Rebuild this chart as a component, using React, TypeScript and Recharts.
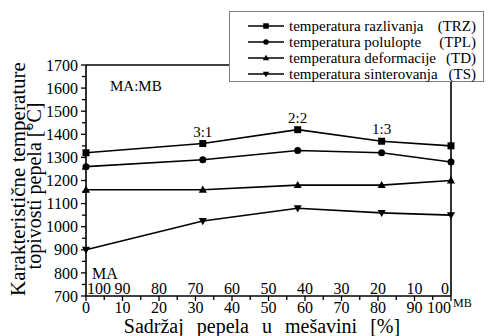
import React from 'react';
import { LineChart, Line, XAxis, YAxis, ReferenceLine, Legend, LabelList } from 'recharts';

const X_VALUES = [0, 32, 58, 81, 100];
const TRZ = [1320, 1360, 1420, 1370, 1350];
const TPL = [1260, 1290, 1330, 1320, 1280];
const TD = [1160, 1160, 1180, 1180, 1200];
const TS = [900, 1025, 1080, 1060, 1050];
const RATIO_LABELS = ['', '3:1', '2:2', '1:3', ''];

const X_TICKS = [0, 5, 10, 15, 20, 25, 30, 35, 40, 45, 50, 55, 60, 65, 70, 75, 80, 85, 90, 95, 100];
const X_MAJOR = [0, 10, 20, 30, 40, 50, 60, 70, 80, 90, 100];
const MA_SHARE = ['100', '90', '80', '70', '60', '50', '40', '30', '20', '10', '0'];
const Y_TICKS = [700, 750, 800, 850, 900, 950, 1000, 1050, 1100, 1150, 1200, 1250, 1300, 1350, 1400, 1450, 1500, 1550, 1600, 1650, 1700];
const Y_MAJOR = [700, 800, 900, 1000, 1100, 1200, 1300, 1400, 1500, 1600, 1700];

const SERIES = [
  { key: 'trz', name: 'temperatura razlivanja', abbr: '(TRZ)', shape: 'square' },
  { key: 'tpl', name: 'temperatura polulopte', abbr: '(TPL)', shape: 'circle' },
  { key: 'td', name: 'temperatura deformacije', abbr: '(TD)', shape: 'up' },
  { key: 'ts', name: 'temperatura sinterovanja', abbr: '(TS)', shape: 'down' },
];

const data = X_VALUES.map((x, i) => ({
  x,
  trz: TRZ[i],
  tpl: TPL[i],
  td: TD[i],
  ts: TS[i],
  ratio: RATIO_LABELS[i],
}));

const FONT = 'Times New Roman';
const INK = '#000';

function Marker({ cx, cy, shape, s }: { cx: number; cy: number; shape: string; s: number }) {
  if (cx == null || cy == null) return null;
  if (shape === 'square') return <rect x={cx - s / 2} y={cy - s / 2} width={s} height={s} fill={INK} />;
  if (shape === 'circle') return <circle cx={cx} cy={cy} r={s / 2} fill={INK} />;
  if (shape === 'up')
    return <polygon points={`${cx},${cy - s * 0.6} ${cx + s * 0.58},${cy + s * 0.42} ${cx - s * 0.58},${cy + s * 0.42}`} fill={INK} />;
  return <polygon points={`${cx},${cy + s * 0.6} ${cx + s * 0.58},${cy - s * 0.42} ${cx - s * 0.58},${cy - s * 0.42}`} fill={INK} />;
}

const XTick = (props: any) => {
  const { x, y, payload } = props;
  const v = payload.value;
  const majorIdx = X_MAJOR.indexOf(v);
  const major = majorIdx >= 0;
  let anchor: 'middle' | 'start' | 'end' = 'middle';
  let dx = 0;
  if (v === 0) { anchor = 'start'; dx = 1; }
  if (v === 100) { anchor = 'end'; dx = -2; }
  return (
    <g>
      <line x1={x} x2={x} y1={y} y2={y + (major ? 5 : 4)} stroke={INK} strokeWidth={1.3} />
      {major && (
        <text x={x} y={y + 17} textAnchor={v === 100 ? 'end' : 'middle'} fontSize={16} style={{ fontFamily: FONT }} fill={INK}>
          {v}
        </text>
      )}
      {major && (
        <text x={x + dx} y={y - 2} textAnchor={anchor} fontSize={16} style={{ fontFamily: FONT }} fill={INK}>
          {MA_SHARE[majorIdx]}
        </text>
      )}
    </g>
  );
};

const YTick = (props: any) => {
  const { x, y, payload } = props;
  const v = payload.value;
  const major = Y_MAJOR.indexOf(v) >= 0;
  return (
    <g>
      <line x1={x} x2={x - (major ? 5 : 4)} y1={y} y2={y} stroke={INK} strokeWidth={1.3} />
      {major && (
        <text x={x - 8} y={y} dy="0.35em" textAnchor="end" fontSize={16} style={{ fontFamily: FONT }} fill={INK}>
          {v}
        </text>
      )}
    </g>
  );
};

const YTitle = () => (
  <g fill={INK}>
    <text transform="translate(25,179) rotate(-90)" textAnchor="middle" fontSize={21} style={{ fontFamily: FONT }}>
      Karakteristične temperature
    </text>
    <text transform="translate(41,186) rotate(-90)" textAnchor="middle" fontSize={20} style={{ fontFamily: FONT }}>
      topivosti pepela [°C]
    </text>
    <text x={110} y={91} fontSize={15} style={{ fontFamily: FONT }}>MA:MB</text>
  </g>
);

const XTitle = () => (
  <g fill={INK}>
    <text x={262} y={333} textAnchor="middle" fontSize={20} style={{ wordSpacing: '8px', fontFamily: FONT }}>
      Sadržaj pepela u mešavini [%]
    </text>
    <text x={92} y={279} fontSize={16} style={{ fontFamily: FONT }}>MA</text>
    <text x={453} y={307} fontSize={12} style={{ fontFamily: FONT }}>MB</text>
  </g>
);

const LegendContent = () => (
  <div
    style={{
      width: 255,
      height: 71,
      boxSizing: 'border-box',
      border: '1px solid #808080',
      background: '#fff',
      padding: '6px 7px 0 18px',
      fontSize: 15,
      color: INK,
      fontFamily: FONT,
    }}
  >
    {SERIES.map((s) => (
      <div key={s.key} style={{ display: 'flex', alignItems: 'center', height: 16, lineHeight: '16px' }}>
        <svg width={36} height={16} style={{ flex: 'none' }}>
          <line x1={0} x2={36} y1={8} y2={8} stroke={INK} strokeWidth={1.5} />
          <Marker cx={18} cy={8} shape={s.shape} s={5.5} />
        </svg>
        <span style={{ marginLeft: 5, flex: 1, display: 'flex', justifyContent: 'space-between', whiteSpace: 'nowrap' }}>
          <span>{s.name}</span>
          <span>{s.abbr}</span>
        </span>
      </div>
    ))}
  </div>
);

export default function App() {
  return (
    <div style={{ position: 'absolute', left: 0, top: 0, width: 488, height: 336, background: '#fff', fontFamily: FONT }}>
      <LineChart width={488} height={336} data={data} margin={{ top: 65, right: 37, left: 0, bottom: 0 }}>
        <XAxis
          dataKey="x"
          type="number"
          domain={[0, 100]}
          ticks={X_TICKS}
          interval={0}
          height={40}
          tickSize={0}
          tickMargin={0}
          tickLine={false}
          axisLine={{ stroke: INK, strokeWidth: 1.6 }}
          tick={<XTick />}
          label={{ content: () => <XTitle /> }}
        />
        <YAxis
          type="number"
          domain={[700, 1700]}
          ticks={Y_TICKS}
          interval={0}
          width={86}
          tickSize={0}
          tickMargin={0}
          tickLine={false}
          axisLine={{ stroke: INK, strokeWidth: 1.6 }}
          tick={<YTick />}
          label={{ content: () => <YTitle /> }}
        />
        <ReferenceLine y={1700} stroke={INK} strokeWidth={1.6} />
        <ReferenceLine x={100} stroke={INK} strokeWidth={1.6} />
        {SERIES.map((s) => (
          <Line
            key={s.key}
            dataKey={s.key}
            name={s.name}
            stroke={INK}
            strokeWidth={1.6}
            isAnimationActive={false}
            dot={(p: any) => <Marker key={`${s.key}-${p.index}`} cx={p.cx} cy={p.cy} shape={s.shape} s={7} />}
            activeDot={false}
          >
            {s.key === 'trz' && (
              <LabelList dataKey="ratio" position="top" offset={7} fontSize={15} style={{ fontFamily: FONT }} fill={INK} />
            )}
          </Line>
        ))}
        <Legend
          layout="vertical"
          align="center"
          verticalAlign="middle"
          wrapperStyle={{ left: 229, top: 11, width: 255, height: 71 }}
          content={() => <LegendContent />}
        />
      </LineChart>
    </div>
  );
}
